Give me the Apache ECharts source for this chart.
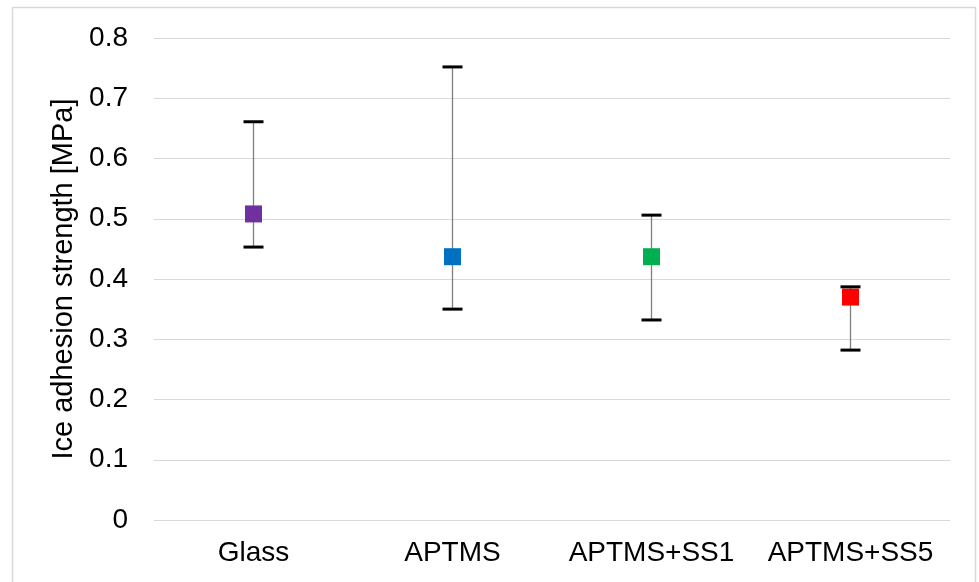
<!DOCTYPE html>
<html>
<head>
<meta charset="utf-8">
<script src="https://cdn.jsdelivr.net/npm/echarts@6/dist/echarts.min.js"></script>
<style>
html,body{margin:0;padding:0;background:#fff;}
#c{width:979px;height:582px;}
</style>
</head>
<body>
<div id="c"></div>
<script>
var categories = ['Glass', 'APTMS', 'APTMS+SS1', 'APTMS+SS5'];
var meanValues = [0.508, 0.437, 0.437, 0.370];
var upperValues = [0.661, 0.752, 0.506, 0.387];
var lowerValues = [0.453, 0.350, 0.332, 0.282];
var yTicks = [0, 0.1, 0.2, 0.3, 0.4, 0.5, 0.6, 0.7, 0.8];
var pointColors = ['#7030A0', '#0070C0', '#00B050', '#FF0000'];

var chart = echarts.init(document.getElementById('c'));

var errData = categories.map(function (c, i) { return [i, lowerValues[i], upperValues[i]]; });

function errLine(params, api) {
  var x = api.value(0);
  var lo = api.coord([x, api.value(1)]);
  var hi = api.coord([x, api.value(2)]);
  return {
    type: 'line',
    shape: { x1: lo[0], y1: lo[1], x2: hi[0], y2: hi[1] },
    style: { stroke: '#7f7f7f', lineWidth: 1.3 }
  };
}
function errCaps(params, api) {
  var x = api.value(0);
  var lo = api.coord([x, api.value(1)]);
  var hi = api.coord([x, api.value(2)]);
  var w = 10;
  return {
    type: 'group',
    children: [
      { type: 'line', shape: { x1: lo[0] - w, y1: lo[1], x2: lo[0] + w, y2: lo[1] }, style: { stroke: '#000', lineWidth: 3 } },
      { type: 'line', shape: { x1: hi[0] - w, y1: hi[1], x2: hi[0] + w, y2: hi[1] }, style: { stroke: '#000', lineWidth: 3 } }
    ]
  };
}

var FONT = 'Liberation Sans, Arial, sans-serif';

chart.setOption({
  animation: false,
  backgroundColor: '#fff',
  graphic: [{
    type: 'rect',
    shape: { x: 12.5, y: 7.5, width: 963, height: 600 },
    style: { fill: 'none', stroke: '#d9d9d9', lineWidth: 1.5 },
    silent: true, z: -10
  }],
  grid: { left: 154, right: 29, top: 38, bottom: 62 },
  xAxis: {
    type: 'category',
    data: categories,
    axisLine: { show: false },
    axisTick: { show: false },
    axisLabel: { color: '#000', fontFamily: FONT, fontSize: 28, margin: 19, interval: 0, hideOverlap: false }
  },
  yAxis: {
    type: 'value',
    min: yTicks[0],
    max: yTicks[yTicks.length - 1],
    interval: 0.1,
    name: 'Ice adhesion strength [MPa]',
    nameLocation: 'middle',
    nameGap: 72,
    nameTextStyle: { color: '#000', fontFamily: FONT, fontSize: 29 },
    axisLine: { show: false },
    axisTick: { show: false },
    splitLine: { lineStyle: { color: '#d9d9d9', width: 1 } },
    axisLabel: {
      color: '#000', fontFamily: FONT, fontSize: 28, margin: 26,
      formatter: function (v) { return String(Math.round(v * 10) / 10); }
    }
  },
  series: [
    { type: 'custom', renderItem: errLine, data: errData, z: 1, encode: { x: 0, y: [1, 2] } },
    {
      type: 'scatter',
      symbol: 'rect',
      symbolSize: 17,
      z: 2,
      data: meanValues.map(function (v, i) {
        return { value: [i, v], itemStyle: { color: pointColors[i], opacity: 1 } };
      })
    },
    { type: 'custom', renderItem: errCaps, data: errData, z: 3, encode: { x: 0, y: [1, 2] } }
  ]
});
</script>
</body>
</html>
